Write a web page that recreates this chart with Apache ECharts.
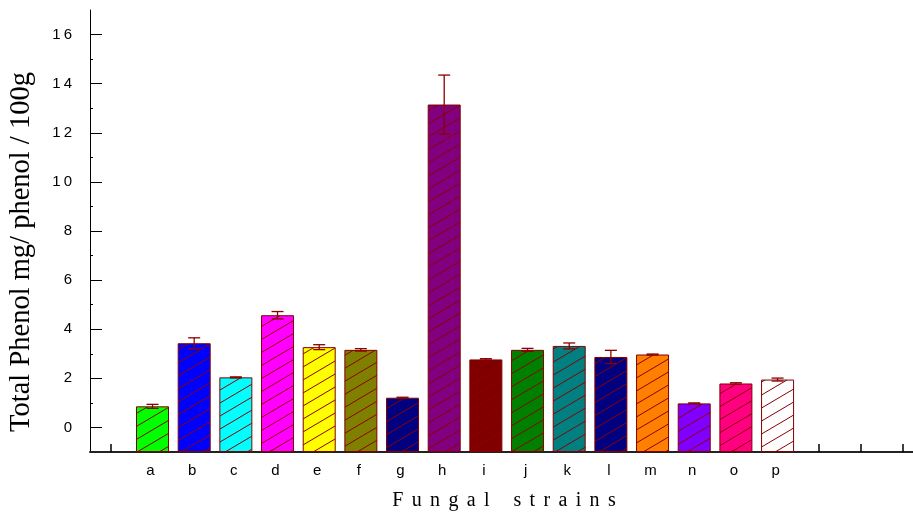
<!DOCTYPE html>
<html>
<head>
<meta charset="utf-8">
<script src="https://cdn.jsdelivr.net/npm/echarts@6/dist/echarts.min.js"></script>
<style>
html,body{margin:0;padding:0;background:#fff;}
#chart{width:913px;height:519px;}
</style>
</head>
<body>
<div id="chart"></div>
<script>
const categories = ['a','b','c','d','e','f','g','h','i','j','k','l','m','n','o','p'];
const values = [0.86, 3.43, 2.04, 4.57, 3.27, 3.16, 1.21, 13.15, 2.77, 3.16, 3.32, 2.87, 2.97, 0.98, 1.79, 1.95];
const errors = [0.08, 0.22, 0.02, 0.15, 0.10, 0.05, 0.02, 1.20, 0.03, 0.06, 0.12, 0.27, 0.02, 0.02, 0.03, 0.06];
const barColors = ['#00ff00','#0000ff','#00ffff','#ff00ff','#ffff00','#808000','#000080','#800080','#800000','#008000','#008080','#000080','#ff8000','#8000ff','#ff0080','#ffffff'];
const yMajorTicks = [0,2,4,6,8,10,12,14,16];
const yMinorTicks = [1,3,5,7,9,11,13,15];
const yTitle = 'Total Phenol mg/ phenol / 100g';
const xTitle = 'Fungal strains';

// x slots: category i sits at slot i+1; slot 0 and slots 17..19 are empty ticks
const firstSlot = 1;
const xSlotTicks = [0,1,2,3,4,5,6,7,8,9,10,11,12,13,14,15,16,17,18,19];
const xLabelSlots = categories.map((c, i) => i + firstSlot);

function makePattern(color) {
  const w = 22, h = 13;
  const c = document.createElement('canvas');
  c.width = w; c.height = h;
  const ctx = c.getContext('2d');
  ctx.fillStyle = color;
  ctx.fillRect(0, 0, w, h);
  ctx.strokeStyle = '#8b0000';
  ctx.lineWidth = 1;
  for (let k = -1; k <= 1; k++) {
    ctx.beginPath();
    ctx.moveTo(-w, 2 * h + k * h);
    ctx.lineTo(2 * w, -h + k * h);
    ctx.stroke();
  }
  return { image: c, repeat: 'repeat' };
}

const barData = values.map((v, i) => ({
  value: [i + firstSlot, v],
  itemStyle: { color: makePattern(barColors[i]) }
}));
const errData = values.map((v, i) => [i + firstSlot, v, errors[i]]);

function spaced(s, sep) { return String(s).split('').join(sep); }

const chart = echarts.init(document.getElementById('chart'), null, { renderer: 'canvas' });
chart.setOption({
  animation: false,
  backgroundColor: '#ffffff',
  grid: { left: 90, top: 10, right: 0, height: 442, containLabel: false },
  xAxis: {
    type: 'value',
    min: -0.5, max: 19.25,
    axisLine: { show: true, onZero: false, lineStyle: { color: '#222', width: 2 } },
    axisTick: { show: true, inside: true, length: 8, customValues: xSlotTicks, lineStyle: { color: '#000', width: 1.5 } },
    axisLabel: {
      margin: 11, color: '#000', fontSize: 15, fontFamily: '"Liberation Sans", Arial, sans-serif',
      customValues: xLabelSlots,
      padding: [0, 4, 0, 0],
      formatter: v => categories[Math.round(v) - firstSlot] || ''
    },
    splitLine: { show: false }
  },
  yAxis: [{
    type: 'value',
    min: -1, max: 17,
    startValue: -1,
    position: 'left',
    axisLine: { show: true, onZero: false, lineStyle: { color: '#000', width: 1 } },
    axisTick: { show: true, inside: true, length: 12, customValues: yMajorTicks, lineStyle: { color: '#000', width: 1 } },
    axisLabel: {
      margin: 18, color: '#000', fontSize: 15, fontFamily: '"Liberation Sans", Arial, sans-serif',
      customValues: yMajorTicks,
      formatter: v => spaced(v, '\u2009')
    },
    splitLine: { show: false }
  }, {
    type: 'value',
    min: -1, max: 17,
    position: 'left',
    offset: 0,
    axisLine: { show: false, onZero: false },
    axisTick: { show: true, inside: true, length: 3, customValues: yMinorTicks, lineStyle: { color: '#000', width: 1 } },
    axisLabel: { show: false },
    splitLine: { show: false }
  }],
  series: [{
    type: 'bar',
    data: barData,
    barWidth: 33,
    itemStyle: { borderColor: '#800000', borderWidth: 1 },
    z: 2
  }, {
    type: 'custom',
    data: errData,
    encode: { x: 0, y: 1 },
    z: 5,
    renderItem: function (params, api) {
      const x = api.value(0), v = api.value(1), e = api.value(2);
      const top = api.coord([x, v + e]);
      const bot = api.coord([x, v - e]);
      const hw = 6;
      const st = { stroke: '#8b0000', lineWidth: 1.3 };
      return {
        type: 'group',
        children: [
          { type: 'line', shape: { x1: top[0], y1: top[1], x2: bot[0], y2: bot[1] }, style: st },
          { type: 'line', shape: { x1: top[0] - hw, y1: top[1], x2: top[0] + hw, y2: top[1] }, style: st },
          { type: 'line', shape: { x1: bot[0] - hw, y1: bot[1], x2: bot[0] + hw, y2: bot[1] }, style: st }
        ]
      };
    }
  }],
  graphic: [{
    type: 'text', x: 22, y: 252, rotation: Math.PI / 2,
    style: { text: yTitle, font: '28.5px "Liberation Serif", "Times New Roman", serif', fill: '#000', textAlign: 'center', textVerticalAlign: 'middle' }
  }, {
    type: 'text', x: 504, y: 501,
    style: { text: xTitle.split(' ').map(w => spaced(w, '\u2006\u2005')).join('\u2003\u2009'), font: '20px "Liberation Serif", "Times New Roman", serif', fill: '#000', textAlign: 'center', textVerticalAlign: 'middle' }
  }]
});
</script>
</body>
</html>
